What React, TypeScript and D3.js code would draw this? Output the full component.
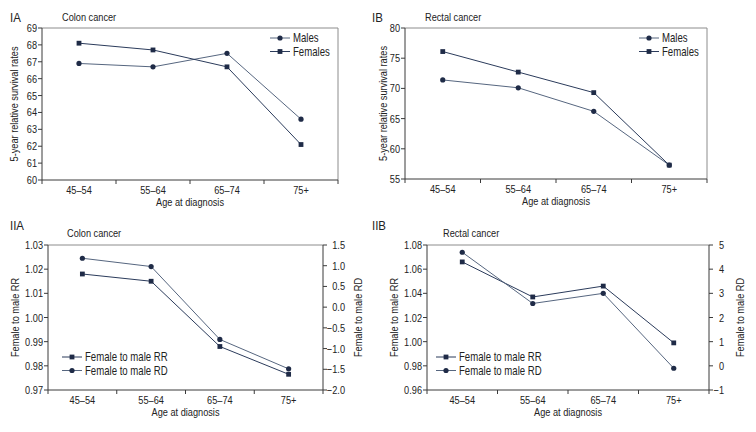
import React from "react";
import * as d3 from "d3";

const ageGroups = ["45–54", "55–64", "65–74", "75+"];

const colonMales = [66.9, 66.7, 67.5, 63.6];
const colonFemales = [68.1, 67.7, 66.7, 62.1];
const rectalMales = [71.4, 70.1, 66.2, 57.3];
const rectalFemales = [76.1, 72.7, 69.3, 57.3];

const colonRR = [1.018, 1.015, 0.988, 0.9765];
const colonRD = [1.18, 0.98, -0.78, -1.49];
const rectalRR = [1.066, 1.037, 1.046, 0.999];
const rectalRD = [4.7, 2.58, 3.0, -0.1];

const colonSurvivalTicks = [60, 61, 62, 63, 64, 65, 66, 67, 68, 69];
const rectalSurvivalTicks = [55, 60, 65, 70, 75, 80];
const colonRRTicks = [0.97, 0.98, 0.99, 1.0, 1.01, 1.02, 1.03];
const colonRDTicks = [-2.0, -1.5, -1.0, -0.5, 0.0, 0.5, 1.0, 1.5];
const rectalRRTicks = [0.96, 0.98, 1.0, 1.02, 1.04, 1.06, 1.08];
const rectalRDTicks = [-1, 0, 1, 2, 3, 4, 5];

const FONT = "'Liberation Sans', Arial, sans-serif";
const SX = 0.8;
const AXIS = "#3a3a3a";
const FRAME = "#8c8c8c";
const MARK = "#1f2b47";
const LINE_DARK = "#2b3b5b";
const LINE_LIGHT = "#56667f";

function T({ x, y, size = 11.5, anchor = "start", rotate = 0, sx = SX, children }: any) {
  const tr = rotate
    ? `translate(${x},${y}) rotate(${rotate}) scale(${sx},1)`
    : `translate(${x},${y}) scale(${sx},1)`;
  return (
    <text transform={tr} fontSize={size} textAnchor={anchor} fill="#222" fontFamily={FONT}>
      {children}
    </text>
  );
}

type Series = { name: string; values: number[]; marker: "circle" | "square"; axis: "left" | "right"; line: string };

type PanelProps = {
  left: number; right: number; top: number; bottom: number;
  label: string; labelX: number; labelY: number;
  title: string; titleX: number; titleY: number;
  yLabel: string; yLabelX: number;
  leftTicks: number[]; leftFmt: (v: number) => string;
  rightTicks?: number[]; rightFmt?: (v: number) => string; rightLabel?: string; rightLabelX?: number; rightTextEnd?: number;
  series: Series[];
  legendX: number; legendY: number;
};

const minusFmt = (digits: number) => (v: number) => {
  const s = Math.abs(v).toFixed(digits);
  return v < 0 ? "\u2212" + s : s;
};

function Marker({ type, x, y }: { type: "circle" | "square"; x: number; y: number }) {
  if (type === "circle") return <circle cx={x} cy={y} r={2.6} fill={MARK} />;
  return <rect x={x - 2.4} y={y - 2.4} width={4.8} height={4.8} fill={MARK} />;
}

function Panel(p: PanelProps) {
  const x = d3.scaleBand<string>().domain(ageGroups).range([p.left, p.right]);
  const yL = d3.scaleLinear().domain(d3.extent(p.leftTicks) as [number, number]).range([p.bottom, p.top]);
  const yR = p.rightTicks
    ? d3.scaleLinear().domain(d3.extent(p.rightTicks) as [number, number]).range([p.bottom, p.top])
    : null;
  const cx = (g: string) => (x(g) as number) + x.bandwidth() / 2;
  const boundaries = [...ageGroups.map((g) => x(g) as number), p.right];
  const midY = (p.top + p.bottom) / 2;
  return (
    <g>
      <T x={p.labelX} y={p.labelY} size={13.5} sx={0.85}>{p.label}</T>
      <T x={p.titleX} y={p.titleY}>{p.title}</T>
      <line x1={p.left} x2={p.right} y1={p.top} y2={p.top} stroke={FRAME} strokeWidth={1} />
      {!yR && <line x1={p.right} x2={p.right} y1={p.top} y2={p.bottom} stroke={FRAME} strokeWidth={1} />}
      <line x1={p.left} x2={p.left} y1={p.top} y2={p.bottom} stroke={AXIS} strokeWidth={1} />
      {p.leftTicks.map((t) => (
        <g key={"l" + t}>
          <line x1={p.left - 4} x2={p.left} y1={yL(t)} y2={yL(t)} stroke={AXIS} />
          <T x={p.left - 5} y={yL(t) + 4} anchor="end">{p.leftFmt(t)}</T>
        </g>
      ))}
      {yR && (
        <g>
          <line x1={p.right} x2={p.right} y1={p.top} y2={p.bottom} stroke={AXIS} strokeWidth={1} />
          {p.rightTicks!.map((t) => (
            <g key={"r" + t}>
              <line x1={p.right} x2={p.right + 4} y1={yR(t)} y2={yR(t)} stroke={AXIS} />
              <T x={p.right + (p.rightTextEnd ?? 20)} y={yR(t) + 4} anchor="end">{p.rightFmt!(t)}</T>
            </g>
          ))}
          <T x={p.rightLabelX} y={midY} anchor="middle" rotate={-90}>{p.rightLabel}</T>
        </g>
      )}
      <line x1={p.left} x2={p.right} y1={p.bottom} y2={p.bottom} stroke={AXIS} strokeWidth={1} />
      {boundaries.map((b, i) => (
        <line key={"b" + i} x1={b} x2={b} y1={p.bottom} y2={p.bottom + 4} stroke={AXIS} />
      ))}
      {ageGroups.map((g) => (
        <T key={g} x={cx(g)} y={p.bottom + 14} anchor="middle">{g}</T>
      ))}
      <T x={(p.left + p.right) / 2} y={p.bottom + 26} anchor="middle">Age at diagnosis</T>
      <T x={p.yLabelX} y={midY} anchor="middle" rotate={-90}>{p.yLabel}</T>
      {p.series.map((s) => {
        const sc = s.axis === "left" ? yL : (yR as d3.ScaleLinear<number, number>);
        const line = d3.line<number>().x((_, i) => cx(ageGroups[i])).y((v) => sc(v));
        return (
          <g key={s.name}>
            <path d={line(s.values) as string} fill="none" stroke={s.line} strokeWidth={1} />
            {s.values.map((v, i) => (
              <Marker key={i} type={s.marker} x={cx(ageGroups[i])} y={sc(v)} />
            ))}
          </g>
        );
      })}
      {p.series.map((s, i) => {
        const ly = p.legendY + i * 13.5;
        return (
          <g key={"lg" + s.name}>
            <line x1={p.legendX} x2={p.legendX + 20} y1={ly} y2={ly} stroke={s.line} strokeWidth={1} />
            <Marker type={s.marker} x={p.legendX + 10} y={ly} />
            <T x={p.legendX + 23} y={ly + 4} size={12}>{s.name}</T>
          </g>
        );
      })}
    </g>
  );
}

export default function App() {
  const f0 = (v: number) => v.toFixed(0);
  const f2 = (v: number) => v.toFixed(2);
  return (
    <svg width={756} height={432} style={{ position: "absolute", left: 0, top: 0, background: "#fff" }}>
      <rect width={756} height={432} fill="#fff" />
      <Panel
        left={42} right={338} top={28} bottom={180}
        label="IA" labelX={10} labelY={22}
        title="Colon cancer" titleX={62} titleY={21}
        yLabel="5-year relative survival rates" yLabelX={18}
        leftTicks={colonSurvivalTicks} leftFmt={f0}
        series={[
          { name: "Males", values: colonMales, marker: "circle", axis: "left", line: LINE_LIGHT },
          { name: "Females", values: colonFemales, marker: "square", axis: "left", line: LINE_DARK },
        ]}
        legendX={270} legendY={38}
      />
      <Panel
        left={405} right={707} top={28} bottom={179}
        label="IB" labelX={372} labelY={22}
        title="Rectal cancer" titleX={425} titleY={21}
        yLabel="5-year relative survival rates" yLabelX={387}
        leftTicks={rectalSurvivalTicks} leftFmt={f0}
        series={[
          { name: "Males", values: rectalMales, marker: "circle", axis: "left", line: LINE_LIGHT },
          { name: "Females", values: rectalFemales, marker: "square", axis: "left", line: LINE_DARK },
        ]}
        legendX={639} legendY={38}
      />
      <Panel
        left={48} right={323} top={245} bottom={390}
        label="IIA" labelX={10} labelY={230}
        title="Colon cancer" titleX={67} titleY={237}
        yLabel="Female to male RR" yLabelX={19}
        leftTicks={colonRRTicks} leftFmt={f2}
        rightTicks={colonRDTicks} rightFmt={minusFmt(1)} rightLabel="Female to male RD" rightLabelX={362} rightTextEnd={22}
        series={[
          { name: "Female to male RR", values: colonRR, marker: "square", axis: "left", line: LINE_DARK },
          { name: "Female to male RD", values: colonRD, marker: "circle", axis: "right", line: LINE_LIGHT },
        ]}
        legendX={62} legendY={357}
      />
      <Panel
        left={427} right={709} top={245} bottom={390}
        label="IIB" labelX={372} labelY={230}
        title="Rectal cancer" titleX={443} titleY={237}
        yLabel="Female to male RR" yLabelX={398}
        leftTicks={rectalRRTicks} leftFmt={f2}
        rightTicks={rectalRDTicks} rightFmt={minusFmt(0)} rightLabel="Female to male RD" rightLabelX={744} rightTextEnd={15}
        series={[
          { name: "Female to male RR", values: rectalRR, marker: "square", axis: "left", line: LINE_DARK },
          { name: "Female to male RD", values: rectalRD, marker: "circle", axis: "right", line: LINE_LIGHT },
        ]}
        legendX={436} legendY={357}
      />
    </svg>
  );
}
